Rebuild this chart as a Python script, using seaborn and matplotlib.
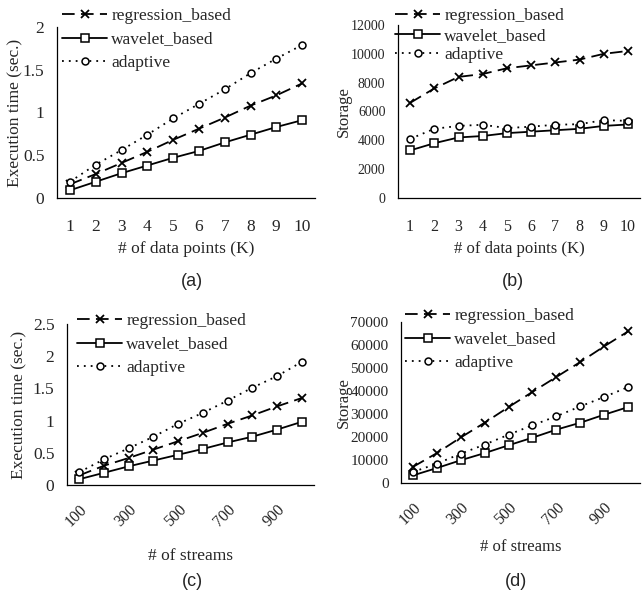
import numpy as np
import pandas as pd
import seaborn as sns
import matplotlib.pyplot as plt
from matplotlib.ticker import FixedLocator, FuncFormatter

# ---- data ----
points_k = ['1', '2', '3', '4', '5', '6', '7', '8', '9', '10']
streams = ['100', '200', '300', '400', '500', '600', '700', '800', '900', '1000']
series_names = ['regression_based', 'wavelet_based', 'adaptive']

# (a) execution time vs # of data points
time_pts_regression = [0.16, 0.28, 0.41, 0.54, 0.68, 0.81, 0.94, 1.08, 1.20, 1.34]
time_pts_wavelet = [0.09, 0.19, 0.29, 0.38, 0.47, 0.55, 0.65, 0.74, 0.83, 0.91]
time_pts_adaptive = [0.19, 0.39, 0.56, 0.74, 0.93, 1.10, 1.27, 1.46, 1.63, 1.79]

# (b) storage vs # of data points
storage_pts_regression = [6600, 7600, 8400, 8600, 9000, 9200, 9400, 9600, 10000, 10200]
storage_pts_wavelet = [3300, 3800, 4200, 4300, 4500, 4600, 4700, 4800, 5000, 5100]
storage_pts_adaptive = [4100, 4800, 5000, 5080, 4850, 4950, 5080, 5120, 5400, 5350]

# (c) execution time vs # of streams
time_str_regression = [0.15, 0.30, 0.42, 0.55, 0.68, 0.81, 0.95, 1.08, 1.22, 1.35]
time_str_wavelet = [0.09, 0.19, 0.29, 0.38, 0.47, 0.56, 0.66, 0.75, 0.86, 0.98]
time_str_adaptive = [0.20, 0.40, 0.57, 0.75, 0.95, 1.12, 1.31, 1.51, 1.69, 1.91]

# (d) storage vs # of streams
storage_str_regression = [7000, 13000, 19800, 26200, 33000, 39600, 46100, 52600, 59400, 65900]
storage_str_wavelet = [3300, 6500, 9900, 13000, 16400, 19700, 23200, 26200, 29700, 33000]
storage_str_adaptive = [4800, 8400, 12750, 16700, 21000, 25100, 29000, 33300, 37400, 41700]

W, H = 642, 594
SERIF = 'Liberation Serif'
SANS = 'Liberation Sans'

styles = {
    'regression_based': dict(marker='x', linestyle=(0, (7, 3.5)), markersize=6, markeredgewidth=1.3),
    'wavelet_based': dict(marker='s', linestyle='-', markersize=5.5, markerfacecolor='white', markeredgewidth=1.1),
    'adaptive': dict(marker='o', linestyle=(0, (1, 2.8)), markersize=5, markerfacecolor='white', markeredgewidth=1.1),
}


def fx(px):
    return px / W


def fy(py):
    return 1 - py / H


def panel(fig, box, cats, values, yticks, ylabel, xlabel, tag, legend_xy,
          ylabel_x, xlabel_y, tag_xy, ytick_size=12.5, xtick_size=12.5,
          label_size=12.5, legend_spacing=0.42, rotate=False):
    left, right, top, bottom = box
    ax = fig.add_axes([fx(left), fy(bottom), fx(right - left), (bottom - top) / H])

    df = pd.DataFrame({'x': cats * 3,
                       'y': np.concatenate(values),
                       'serie': np.repeat(series_names, len(cats))})
    for name in series_names:
        sub = df[df['serie'] == name]
        sns.lineplot(data=sub, x='x', y='y', ax=ax, color='black', linewidth=1.3,
                     markeredgecolor='black', sort=False, label=name, **styles[name])

    ax.set_xlim(-0.5, len(cats) - 0.5)
    ax.set_ylim(yticks[0], yticks[-1])
    ax.set_yticks(yticks)
    ax.yaxis.set_major_formatter(FuncFormatter(lambda v, p: f'{v:g}'))
    ax.tick_params(axis='y', direction='in', length=4, width=0.8, pad=9, labelsize=ytick_size)

    # Excel-like category axis: labels at centres, ticks between categories
    ax.set_xticks(range(len(cats)))
    if rotate:
        labels = [c if i % 2 == 0 else '' for i, c in enumerate(cats)]
        ax.set_xticklabels(labels, rotation=45, ha='right', rotation_mode='anchor')
        ax.tick_params(axis='x', which='major', length=0, pad=12, labelsize=xtick_size)
    else:
        ax.set_xticklabels(cats)
        ax.tick_params(axis='x', which='major', length=0, pad=15, labelsize=xtick_size)
    ax.xaxis.set_minor_locator(FixedLocator(np.arange(0.5, len(cats), 1.0)))
    ax.tick_params(axis='x', which='minor', direction='in', length=4, width=0.8)

    for lab in ax.get_xticklabels() + ax.get_yticklabels():
        lab.set_fontfamily(SERIF)

    sns.despine(ax=ax)
    for s in ['left', 'bottom']:
        ax.spines[s].set_linewidth(0.9)
        ax.spines[s].set_color('black')

    ax.set_ylabel(ylabel, fontsize=label_size, fontfamily=SERIF)
    ax.yaxis.set_label_coords(fx(ylabel_x), 0.5 * (fy(top) + fy(bottom)), transform=fig.transFigure)
    ax.set_xlabel(xlabel, fontsize=label_size, fontfamily=SERIF)
    ax.xaxis.set_label_coords(0.5 * (fx(left) + fx(right)), fy(xlabel_y), transform=fig.transFigure)

    ax.legend(loc='upper left', bbox_to_anchor=(fx(legend_xy[0]), fy(legend_xy[1])),
              bbox_transform=fig.transFigure, frameon=False, borderpad=0,
              borderaxespad=0, handlelength=2.6, handletextpad=0.25,
              labelspacing=legend_spacing, prop={'family': SERIF, 'size': 12.5})

    fig.text(fx(tag_xy[0]), fy(tag_xy[1]), tag, ha='center', va='center',
             fontsize=13, fontfamily=SANS)
    return ax


sns.set_style('white')
plt.rcParams['font.family'] = [SERIF, 'DejaVu Serif']

fig = plt.figure(figsize=(W / 100, H / 100), dpi=100)

panel(fig, (57, 315, 27, 198), points_k,
      [time_pts_regression, time_pts_wavelet, time_pts_adaptive],
      [0, 0.5, 1, 1.5, 2], 'Execution time (sec.)', '# of data points (K)', '(a)',
      legend_xy=(62, 8), ylabel_x=23, xlabel_y=241, tag_xy=(192, 282))

panel(fig, (398, 640, 25, 198), points_k,
      [storage_pts_regression, storage_pts_wavelet, storage_pts_adaptive],
      [0, 2000, 4000, 6000, 8000, 10000, 12000], 'Storage', '# of data points (K)', '(b)',
      legend_xy=(395, 8), ylabel_x=352, xlabel_y=241, tag_xy=(513, 282),
      ytick_size=10, xtick_size=11.5, label_size=12, legend_spacing=0.2)

panel(fig, (67, 314, 324, 485), streams,
      [time_str_regression, time_str_wavelet, time_str_adaptive],
      [0, 0.5, 1, 1.5, 2, 2.5], 'Execution time (sec.)', '# of streams', '(c)',
      legend_xy=(77, 313), ylabel_x=27, xlabel_y=548, tag_xy=(192, 582),
      xtick_size=11.5, rotate=True)

panel(fig, (401, 640, 322, 483), streams,
      [storage_str_regression, storage_str_wavelet, storage_str_adaptive],
      [0, 10000, 20000, 30000, 40000, 50000, 60000, 70000], 'Storage', '# of streams', '(d)',
      legend_xy=(405, 308), ylabel_x=352, xlabel_y=539, tag_xy=(516, 582),
      ytick_size=11, xtick_size=11.5, label_size=12, rotate=True)

fig.savefig('out.png', dpi=100)
